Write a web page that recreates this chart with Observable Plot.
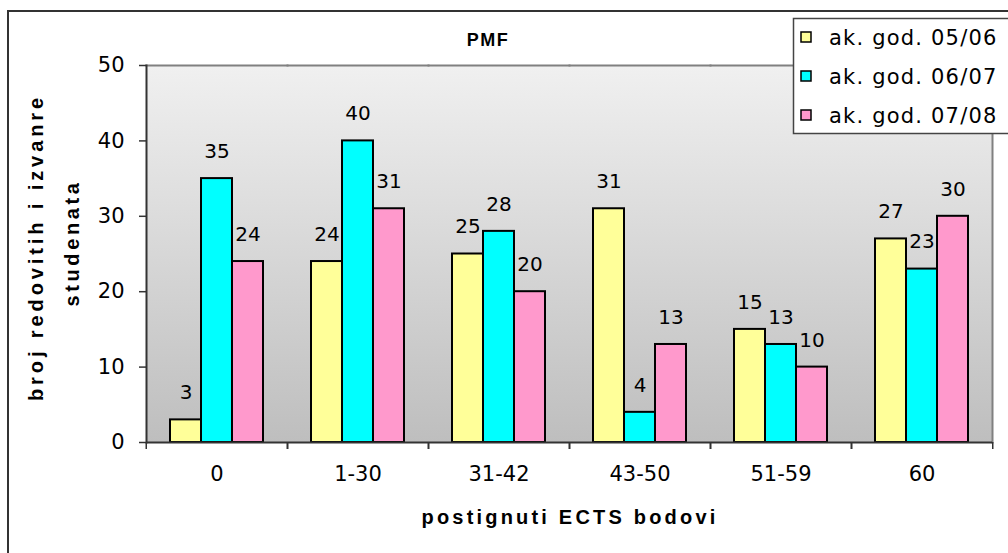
<!DOCTYPE html>
<html>
<head>
<meta charset="utf-8">
<script src="https://cdn.jsdelivr.net/npm/d3@7"></script>
<script src="https://cdn.jsdelivr.net/npm/@observablehq/plot@0.6"></script>
<style>
  body { margin: 0; background: #fff; }
  #wrap { position: relative; width: 1008px; height: 553px; overflow: hidden; background: #fff; }
  #border { position: absolute; left: 7px; top: 10px; width: 1030px; height: 620px; border: 2px solid #333; box-sizing: border-box; }
  #chart { position: absolute; left: 0; top: 0; }
  #overlay { position: absolute; left: 0; top: 0; }
</style>
</head>
<body>
<div id="wrap">
  <div id="border"></div>
  <div id="chart"></div>
  <svg id="overlay" width="1008" height="553"></svg>
</div>
<script>
const categories = ["0", "1-30", "31-42", "43-50", "51-59", "60"];
const series = ["ak. god. 05/06", "ak. god. 06/07", "ak. god. 07/08"];
const values0506 = [3, 24, 25, 31, 15, 27];
const values0607 = [35, 40, 28, 4, 13, 23];
const values0708 = [24, 31, 20, 13, 10, 30];
const colors = ["#FFFF99", "#00FFFF", "#FF99CC"];
const yTicks = [0, 10, 20, 30, 40, 50];
const chartTitle = "PMF";
const xTitle = "postignuti ECTS bodovi";
const yTitleLine1 = "broj redovitih i izvanrednih";
const yTitleLine2 = "studenata";

const seriesValues = [values0506, values0607, values0708];
const rows = [];
categories.forEach((cat, i) => {
  series.forEach((s, j) => rows.push({cat, series: s, value: seriesValues[j][i]}));
});

const FONT = "DejaVu Sans, sans-serif";
const BOLD = "Liberation Sans, Arial, sans-serif";

const svg = Plot.plot({
  width: 1008,
  height: 553,
  marginLeft: 144,
  marginRight: 15,
  marginTop: 65,
  marginBottom: 111,
  style: {fontFamily: FONT, fontSize: "20px", background: "transparent", color: "#000", overflow: "visible"},
  fx: {domain: categories, padding: 0, label: null, axis: null},
  x: {domain: series, paddingInner: 0, paddingOuter: 0.71, axis: null},
  y: {domain: [0, 50], ticks: yTicks, label: null},
  color: {domain: series, range: colors},
  marks: [
    Plot.frame({fill: "url(#plotbg)", stroke: "none", shapeRendering: "crispEdges"}),
    Plot.frame({anchor: "top", stroke: "#808080", strokeWidth: 2}),
    Plot.frame({anchor: "right", stroke: "#808080", strokeWidth: 2, facetAnchor: "right"}),
    Plot.barY(rows, {fx: "cat", x: "series", y: "value", fill: "series", stroke: "#000", strokeWidth: 2}),
    Plot.text(rows, {fx: "cat", x: "series", y: "value", text: d => String(d.value), dy: -27, fontSize: 20, fill: "#000"}),
    Plot.axisY({ticks: yTicks, tickSize: 7, tickPadding: 15, fontSize: 21, stroke: "#333", strokeWidth: 1.5, label: null}),
    Plot.frame({anchor: "left", stroke: "#333", strokeWidth: 2, facetAnchor: "left"}),
    Plot.ruleY([0], {stroke: "#333", strokeWidth: 2}),
    Plot.axisFx({anchor: "bottom", tickSize: 0, tickPadding: 24, fontSize: 21, label: null}),
    Plot.axisFx({anchor: "bottom", tickSize: 7, dx: -70.75, tickFormat: () => "", stroke: "#333", strokeWidth: 1.5, label: null}),
    Plot.axisFx({anchor: "bottom", tickSize: 7, dx: 70.75, tickFormat: () => "", stroke: "#333", strokeWidth: 1.5, label: null})
  ]
});

const s = d3.select(svg);
const grad = s.insert("defs", ":first-child").append("linearGradient")
  .attr("id", "plotbg").attr("x1", 0).attr("y1", 0).attr("x2", 0).attr("y2", 1);
grad.append("stop").attr("offset", "0%").attr("stop-color", "#F0F0F0");
grad.append("stop").attr("offset", "100%").attr("stop-color", "#BEBEBE");

document.getElementById("chart").appendChild(svg);

// Titles and legend overlay
const ov = d3.select("#overlay");
ov.append("defs").append("clipPath").attr("id", "yclip")
  .append("rect").attr("x", 0).attr("y", 97).attr("width", 140).attr("height", 400);

ov.append("text").attr("x", 488).attr("y", 46).attr("text-anchor", "middle")
  .attr("font-family", BOLD).attr("font-weight", "bold")
  .attr("font-size", 18).attr("letter-spacing", 1.5).text(chartTitle);

ov.append("text").attr("x", 570).attr("y", 524).attr("text-anchor", "middle")
  .attr("font-family", BOLD).attr("font-weight", "bold")
  .attr("font-size", 20).attr("letter-spacing", 3.2).text(xTitle);

ov.append("g").attr("clip-path", "url(#yclip)")
  .append("text").attr("transform", "translate(43,401) rotate(-90)").attr("text-anchor", "start")
  .attr("font-family", BOLD).attr("font-weight", "bold")
  .attr("font-size", 20).attr("letter-spacing", 3.9).text(yTitleLine1);

ov.append("text").attr("transform", "translate(79,243) rotate(-90)").attr("text-anchor", "middle")
  .attr("font-family", BOLD).attr("font-weight", "bold")
  .attr("font-size", 20).attr("letter-spacing", 3.6).text(yTitleLine2);

const lg = ov.append("g");
lg.append("rect").attr("x", 793.5).attr("y", 18.5).attr("width", 240).attr("height", 115)
  .attr("fill", "#fff").attr("stroke", "#444").attr("stroke-width", 1.5);
const rowY = [37, 76, 115];
series.forEach((name, i) => {
  lg.append("rect").attr("x", 801).attr("y", rowY[i] - 5).attr("width", 10).attr("height", 10)
    .attr("fill", colors[i]).attr("stroke", "#000").attr("stroke-width", 1.5);
  lg.append("text").attr("x", 829).attr("y", rowY[i]).attr("dy", "0.36em")
    .attr("font-family", FONT).attr("font-size", 21).attr("letter-spacing", 1.2).text(name);
});
</script>
</body>
</html>
